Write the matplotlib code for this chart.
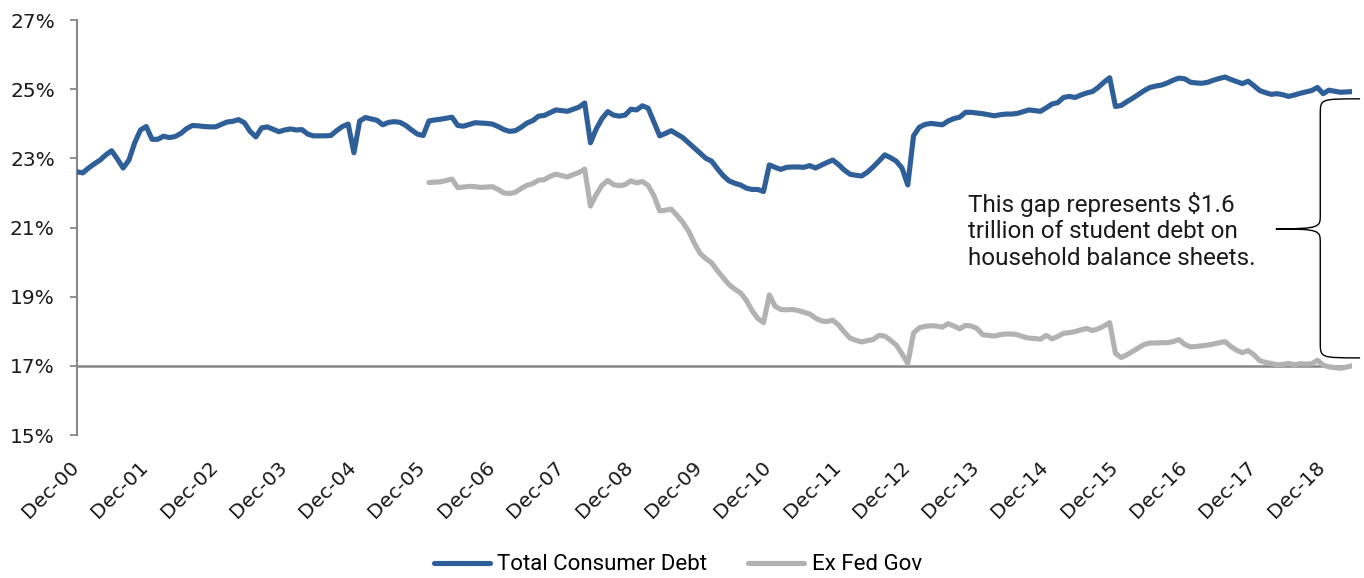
import matplotlib
matplotlib.use('Agg')
from matplotlib import pyplot as plt
from matplotlib.path import Path
from matplotlib.patches import PathPatch
import matplotlib.transforms as mtransforms
import numpy as np
import pandas as pd

BLUE = '#2F5F98'
GREY = '#B2B2B2'
AXIS_GREY = '#878787'
TEXT = '#1a1a1a'

# Consumer debt as % of income, monthly from Dec-2000
total_debt = [
    22.61, 22.58, 22.72, 22.84, 22.95, 23.10, 23.22, 22.98, 22.72, 22.95, 23.45, 23.82,
    23.92, 23.55, 23.55, 23.64, 23.60, 23.63, 23.72, 23.86, 23.95, 23.94, 23.92, 23.91,
    23.91, 23.98, 24.05, 24.07, 24.12, 24.03, 23.78, 23.62, 23.88, 23.91, 23.84, 23.77,
    23.82, 23.85, 23.82, 23.83, 23.70, 23.65, 23.65, 23.65, 23.66, 23.80, 23.92, 23.99,
    23.16, 24.08, 24.18, 24.14, 24.10, 23.97, 24.04, 24.06, 24.04, 23.95, 23.82, 23.70,
    23.66, 24.08, 24.11, 24.13, 24.16, 24.19, 23.95, 23.93, 23.98, 24.03, 24.02, 24.01,
    23.99, 23.92, 23.83, 23.78, 23.80, 23.90, 24.02, 24.09, 24.22, 24.24, 24.32, 24.40,
    24.38, 24.36, 24.42, 24.48, 24.60, 23.45, 23.85, 24.15, 24.35, 24.25, 24.22, 24.25,
    24.42, 24.40, 24.52, 24.45, 24.05, 23.65, 23.72, 23.80, 23.70, 23.60, 23.45, 23.30,
    23.15, 23.00, 22.92, 22.70, 22.50, 22.35, 22.28, 22.23, 22.14, 22.10, 22.10, 22.04,
    22.81, 22.74, 22.68, 22.74, 22.75, 22.75, 22.74, 22.79, 22.72, 22.80, 22.88, 22.95,
    22.82, 22.66, 22.54, 22.51, 22.49, 22.60, 22.75, 22.92, 23.10, 23.02, 22.92, 22.72,
    22.23, 23.65, 23.90, 23.98, 24.01, 23.99, 23.97, 24.08, 24.15, 24.19, 24.33, 24.33,
    24.31, 24.29, 24.26, 24.23, 24.26, 24.28, 24.28, 24.30, 24.35, 24.40, 24.38, 24.36,
    24.46, 24.57, 24.61, 24.76, 24.79, 24.76, 24.83, 24.89, 24.93, 25.05, 25.20, 25.33,
    24.50, 24.53, 24.64, 24.74, 24.85, 24.96, 25.05, 25.09, 25.12, 25.18, 25.26, 25.32,
    25.30, 25.20, 25.18, 25.17, 25.20, 25.26, 25.31, 25.35, 25.28, 25.22, 25.16, 25.23,
    25.10, 24.96, 24.90, 24.85, 24.87, 24.84, 24.79, 24.83, 24.88, 24.92, 24.96, 25.05,
    24.87, 24.97, 24.94, 24.91, 24.92, 24.93,
]

# Same ratio excluding federal government (student) loans, monthly from Jan-2006
ex_fed_gov = [
    22.30, 22.31, 22.32, 22.36, 22.40, 22.15, 22.17, 22.19, 22.18, 22.16, 22.17,
    22.18, 22.10, 22.00, 21.98, 22.02, 22.13, 22.22, 22.27, 22.37, 22.38, 22.48, 22.54,
    22.50, 22.46, 22.53, 22.59, 22.69, 21.62, 21.95, 22.22, 22.36, 22.24, 22.21, 22.24,
    22.35, 22.29, 22.33, 22.22, 21.92, 21.48, 21.50, 21.53, 21.35, 21.15, 20.90, 20.55,
    20.25, 20.10, 19.98, 19.75, 19.55, 19.35, 19.22, 19.11, 18.90, 18.60, 18.37, 18.25,
    19.05, 18.72, 18.63, 18.62, 18.63, 18.60, 18.55, 18.50, 18.38, 18.30, 18.28, 18.32,
    18.18, 17.98, 17.80, 17.74, 17.69, 17.73, 17.76, 17.88, 17.86, 17.74, 17.60, 17.35,
    17.07, 17.95, 18.10, 18.14, 18.16, 18.15, 18.12, 18.22, 18.15, 18.07, 18.17, 18.15,
    18.08, 17.90, 17.88, 17.86, 17.90, 17.92, 17.92, 17.90, 17.84, 17.80, 17.79, 17.77,
    17.88, 17.78, 17.85, 17.94, 17.96, 17.99, 18.04, 18.08, 18.02, 18.07, 18.15, 18.25,
    17.36, 17.24, 17.32, 17.42, 17.52, 17.62, 17.66, 17.66, 17.67, 17.67, 17.70, 17.76,
    17.62, 17.55, 17.56, 17.58, 17.60, 17.63, 17.67, 17.70, 17.56, 17.45, 17.38, 17.44,
    17.32, 17.15, 17.10, 17.07, 17.03, 17.04, 17.07, 17.03, 17.06, 17.05, 17.06, 17.16,
    17.02, 16.97, 16.95, 16.93, 16.96, 17.00,
]

tick_labels = ['Dec-00', 'Dec-01', 'Dec-02', 'Dec-03', 'Dec-04', 'Dec-05', 'Dec-06',
               'Dec-07', 'Dec-08', 'Dec-09', 'Dec-10', 'Dec-11', 'Dec-12', 'Dec-13',
               'Dec-14', 'Dec-15', 'Dec-16', 'Dec-17', 'Dec-18']
y_ticks = [15, 17, 19, 21, 23, 25, 27]

note = 'This gap represents $1.6\ntrillion of student debt on\nhousehold balance sheets.'

# month positions on a category axis
months = pd.period_range('2000-12', periods=len(total_debt), freq='M')
ex_months = pd.period_range('2006-01', periods=len(ex_fed_gov), freq='M')
x_total = np.arange(len(months))
x_ex = np.array([(m - months[0]).n for m in ex_months])
dec_pos = x_total[months.month == 12]

W, H = 1364, 578
fig = plt.figure(figsize=(W / 100, H / 100), dpi=100)
ax = fig.add_axes([77 / W, 1 - 435 / H, (1352 - 77) / W, 415 / H])

ax.axhline(17, color=AXIS_GREY, lw=1.8, zorder=1)
l1, = ax.plot(x_total, total_debt, color=BLUE, lw=3.7, solid_joinstyle='round',
              solid_capstyle='round', zorder=3, label='Total Consumer Debt')
l2, = ax.plot(x_ex, ex_fed_gov, color=GREY, lw=3.7, solid_joinstyle='round',
              solid_capstyle='round', zorder=2, label='Ex Fed Gov')

ax.set_xlim(0, len(months) - 1)
ax.set_ylim(15, 27)
for s in ['top', 'right', 'bottom']:
    ax.spines[s].set_visible(False)
ax.spines['left'].set_color(AXIS_GREY)
ax.spines['left'].set_linewidth(1.5)

ax.set_yticks(y_ticks, ['%d%%' % v for v in y_ticks])
ax.tick_params(axis='y', direction='out', length=5, width=1.3, color=AXIS_GREY,
               labelsize=14.5, pad=11, labelcolor=TEXT)
ax.set_xticks(dec_pos, tick_labels, rotation=45, ha='right')
ax.tick_params(axis='x', length=0, labelsize=14.5, pad=16, labelcolor=TEXT)
shift = mtransforms.ScaledTranslation(6 / 100, 0, fig.dpi_scale_trans)
for lab in ax.get_xticklabels():
    lab.set_transform(lab.get_transform() + shift)

# curly brace spanning the gap between the two series
xr, xs, xt = 222.4, 215.5, 207.8
ytop, ybot, ymid = 24.72, 17.23, 20.96
verts = [
    (xr, ytop), (xs, ytop), (xs, ytop), (xs, ytop - 0.45),
    (xs, ymid + 0.4),
    (xs, ymid + 0.05), (xs, ymid), (xt, ymid),
    (xs, ymid), (xs, ymid - 0.05), (xs, ymid - 0.4),
    (xs, ybot + 0.45),
    (xs, ybot), (xs, ybot), (xr, ybot),
]
codes = [Path.MOVETO, Path.CURVE4, Path.CURVE4, Path.CURVE4,
         Path.LINETO,
         Path.CURVE4, Path.CURVE4, Path.CURVE4,
         Path.CURVE4, Path.CURVE4, Path.CURVE4,
         Path.LINETO,
         Path.CURVE4, Path.CURVE4, Path.CURVE4]
ax.add_patch(PathPatch(Path(verts, codes), fill=False, ec='black', lw=1.0,
                       clip_on=False, zorder=4))

fig.text(968 / W, 1 - 231 / H, note, family='Roboto', fontsize=17.5, color=TEXT,
         ha='left', va='center', linespacing=1.22)

fig.legend(handles=[l1, l2], loc='center', bbox_to_anchor=(678 / W, 1 - 565 / H),
           ncol=2, frameon=False, handlelength=2.5, handletextpad=0.35,
           columnspacing=1.85, prop={'family': 'Roboto', 'size': 16})

fig.savefig('out.png', dpi=100)
